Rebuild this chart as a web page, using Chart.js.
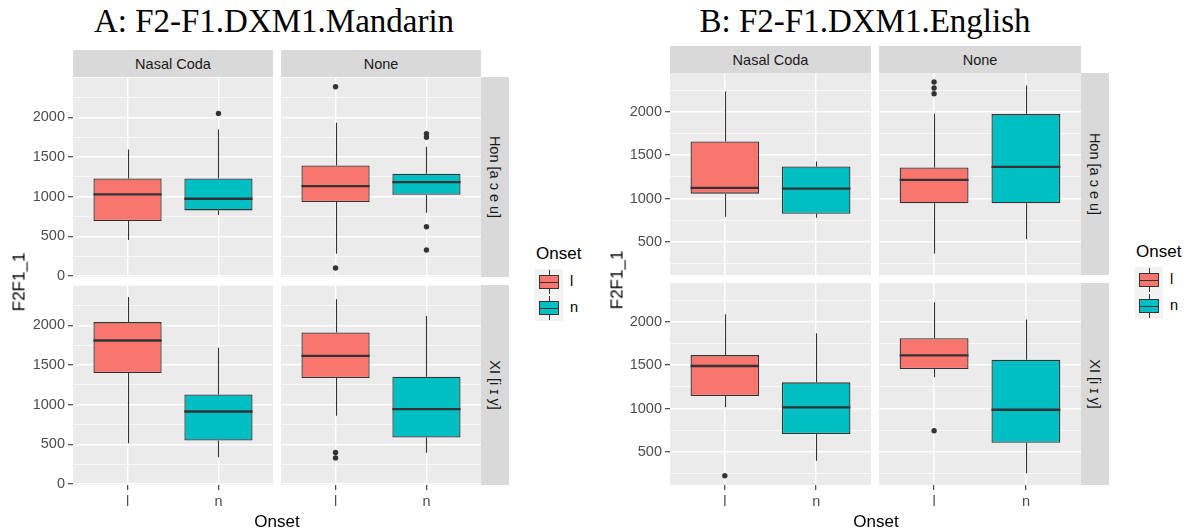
<!DOCTYPE html>
<html><head><meta charset="utf-8">
<script src="https://cdn.jsdelivr.net/npm/chart.js@4.4.1/dist/chart.umd.min.js"></script>
<style>
body{margin:0;width:1184px;height:531px;position:relative;overflow:hidden;background:#fff;font-family:"Liberation Sans",Arial,sans-serif;}
canvas{position:absolute;}
.abs{position:absolute;white-space:nowrap;}
.strip{position:absolute;background:#D9D9D9;color:#1A1A1A;font-size:14.5px;display:flex;align-items:center;justify-content:center;white-space:nowrap;overflow:visible;}
.title{position:absolute;font-family:"Liberation Serif","Times New Roman",serif;font-size:33px;line-height:33px;color:#000;white-space:nowrap;transform:translateX(-50%);}
.axt{position:absolute;font-size:17px;line-height:17px;color:#000;white-space:nowrap;}
</style></head><body>
<script>
// ---------- data ----------
const categories = ['l', 'n'];
const codaFacets = ['Nasal Coda', 'None'];
const vowelFacets = ['Hon [a ɔ e u]', 'XI [i ɪ y]'];
const fillColors = ['#F8766D', '#00BFC4'];
const yTitle = 'F2F1_1';
const xTitle = 'Onset';
const legendTitle = 'Onset';

// [lower whisker, Q1, median, Q3, upper whisker] for onset l, n
const mandarinHonNasal = [[454, 693, 1030, 1231, 1597], [769, 828, 975, 1231, 1849]];
const mandarinHonNasalOut = [[], [2050]];
const mandarinHonNone = [[282, 933, 1134, 1395, 1933], [799, 1026, 1185, 1290, 1631]];
const mandarinHonNoneOut = [[2387, 101], [1795, 1750, 622, 328]];
const mandarinXiNasal = [[515, 1401, 1810, 2042, 2358], [338, 548, 915, 1130, 1718]];
const mandarinXiNasalOut = [[], []];
const mandarinXiNone = [[861, 1338, 1616, 1911, 2329], [396, 586, 945, 1354, 2118]];
const mandarinXiNoneOut = [[398, 330], []];

const englishHonNasal = [[792, 1057, 1123, 1657, 2234], [780, 826, 1115, 1369, 1426]];
const englishHonNasalOut = [[], []];
const englishHonNone = [[369, 946, 1215, 1357, 1977], [531, 946, 1365, 1973, 2303]];
const englishHonNoneOut = [[2342, 2273, 2207], []];
const englishXiNasal = [[1014, 1144, 1490, 1616, 2085], [400, 707, 1014, 1302, 1866]];
const englishXiNasalOut = [[227], []];
const englishXiNone = [[1360, 1455, 1613, 1809, 2223], [254, 607, 987, 1562, 2027]];
const englishXiNoneOut = [[745], []];

const mandarinYRange = [-12, 2510];
const englishYRange = [120, 2446];
const mandarinTicks = [0, 500, 1000, 1500, 2000];
const englishTicks = [500, 1000, 1500, 2000];

// ---------- layout ----------
const FONT = '"Liberation Sans", Arial, sans-serif';
const figs = [
  {
    title: 'A: F2-F1.DXM1.Mandarin', titleX: 274,
    cols: [[73, 273], [281, 481]], rows: [[77, 277], [285, 485]],
    stripTop: 50, stripRight: 509,
    range: mandarinYRange, majors: mandarinTicks,
    panels: [[[mandarinHonNasal, mandarinHonNasalOut], [mandarinHonNone, mandarinHonNoneOut]],
             [[mandarinXiNasal, mandarinXiNasalOut], [mandarinXiNone, mandarinXiNoneOut]]],
    yTitlePos: [19, 282], xTitleX: 277,
    legend: { x: 535, y: 269, titleX: 536, titleTop: 245, labelX: 570 }
  },
  {
    title: 'B: F2-F1.DXM1.English', titleX: 865,
    cols: [[670, 871], [879, 1081]], rows: [[73, 275], [283, 485]],
    stripTop: 46, stripRight: 1109,
    range: englishYRange, majors: englishTicks,
    panels: [[[englishHonNasal, englishHonNasalOut], [englishHonNone, englishHonNoneOut]],
             [[englishXiNasal, englishXiNasalOut], [englishXiNone, englishXiNoneOut]]],
    yTitlePos: [617, 280], xTitleX: 876,
    legend: { x: 1135, y: 267, titleX: 1136, titleTop: 243, labelX: 1170 }
  }
];

function el(tag, cls, style, text) {
  const d = document.createElement(tag);
  if (cls) d.className = cls;
  Object.assign(d.style, style);
  if (text !== undefined) d.textContent = text;
  document.body.appendChild(d);
  return d;
}

function makePanel(fig, r, c) {
  const [x0, x1] = fig.cols[c], [y0, y1] = fig.rows[r];
  const [stats, outs] = fig.panels[r][c];
  const P = 14, axisW = c === 0 ? 60 : 0, axisH = r === 1 ? 26 : 0;
  const W = (x1 - x0) + axisW + 2 * P, H = (y1 - y0) + axisH + 2 * P;
  const cv = document.createElement('canvas');
  cv.width = W; cv.height = H;
  Object.assign(cv.style, { left: (x0 - axisW - P) + 'px', top: (y0 - P) + 'px', width: W + 'px', height: H + 'px' });
  document.body.appendChild(cv);

  const [ymin, ymax] = fig.range;
  const majors = fig.majors;
  const allTicks = [];
  for (let v = Math.ceil(ymin / 250) * 250; v <= ymax; v += 250) allTicks.push(v);
  const isMajor = v => majors.includes(v);

  const boxParts = {
    id: 'boxParts',
    beforeDraw(chart) {
      const a = chart.chartArea, ctx = chart.ctx;
      ctx.save(); ctx.fillStyle = '#EBEBEB';
      ctx.fillRect(a.left, a.top, a.right - a.left, a.bottom - a.top);
      ctx.restore();
    },
    beforeDatasetsDraw(chart) {
      const xs = chart.scales.x, ys = chart.scales.y, ctx = chart.ctx;
      ctx.save(); ctx.strokeStyle = '#333333'; ctx.lineWidth = 1.1;
      stats.forEach((s, i) => {
        const x = Math.round(xs.getPixelForValue(i)) + 0.5;
        ctx.beginPath();
        ctx.moveTo(x, ys.getPixelForValue(s[0])); ctx.lineTo(x, ys.getPixelForValue(s[1]));
        ctx.moveTo(x, ys.getPixelForValue(s[3])); ctx.lineTo(x, ys.getPixelForValue(s[4]));
        ctx.stroke();
      });
      ctx.restore();
    },
    afterDatasetsDraw(chart) {
      const ys = chart.scales.y, ctx = chart.ctx;
      const meta = chart.getDatasetMeta(0);
      ctx.save(); ctx.strokeStyle = '#333333'; ctx.lineWidth = 2.4;
      stats.forEach((s, i) => {
        const bar = meta.data[i];
        const y = ys.getPixelForValue(s[2]);
        ctx.beginPath();
        ctx.moveTo(bar.x - bar.width / 2, y); ctx.lineTo(bar.x + bar.width / 2, y);
        ctx.stroke();
      });
      ctx.restore();
    }
  };

  new Chart(cv, {
    type: 'bar',
    data: {
      datasets: [
        {
          type: 'bar',
          data: stats.map((s, i) => ({ x: i, y: [s[1], s[3]] })),
          backgroundColor: fillColors, borderColor: '#333333', borderWidth: 1.3,
          borderSkipped: false, categoryPercentage: 1, barPercentage: 0.75
        },
        {
          type: 'scatter',
          data: outs.flatMap((arr, i) => arr.map(v => ({ x: i, y: v }))),
          pointRadius: 2.7, pointBackgroundColor: '#333333', pointBorderWidth: 0, pointBorderColor: '#333333'
        }
      ]
    },
    options: {
      responsive: false, animation: false, devicePixelRatio: 1,
      layout: { padding: { left: P, right: P, top: P, bottom: P } },
      plugins: { legend: { display: false }, tooltip: { enabled: false }, title: { display: false } },
      events: [],
      scales: {
        x: {
          type: 'linear', min: -0.6, max: 1.6, offset: false,
          afterBuildTicks: s => { s.ticks = categories.map((_, i) => ({ value: i })); },
          afterFit: s => { s.height = axisH; },
          ticks: { display: r === 1, autoSkip: false, maxRotation: 0, padding: 3,
                   callback: v => categories[v] !== undefined ? categories[v] : '',
                   color: '#4D4D4D', font: { family: FONT, size: 14.5 } },
          grid: { offset: false, color: '#FFFFFF', lineWidth: 1.4, drawTicks: r === 1, tickLength: 5,
                  tickColor: '#333333', tickWidth: 1.1 },
          border: { display: false }
        },
        y: {
          type: 'linear', min: ymin, max: ymax, position: 'left',
          afterBuildTicks: s => { s.ticks = allTicks.map(v => ({ value: v })); },
          afterFit: s => { s.width = axisW; },
          ticks: { display: c === 0, autoSkip: false, padding: 3,
                   callback: v => isMajor(v) ? String(v) : '',
                   color: '#4D4D4D', font: { family: FONT, size: 14.5 } },
          grid: { color: '#FFFFFF', lineWidth: ctx => (ctx.tick && isMajor(ctx.tick.value)) ? 1.4 : 0.7,
                  drawTicks: c === 0, tickLength: 5,
                  tickColor: ctx => (ctx.tick && isMajor(ctx.tick.value)) ? '#333333' : 'rgba(0,0,0,0)',
                  tickWidth: 1.1 },
          border: { display: false }
        }
      }
    },
    plugins: [boxParts]
  });
}

figs.forEach(fig => {
  el('div', 'title', { left: fig.titleX + 'px', top: '5px' }, fig.title);
  // top strips
  fig.cols.forEach(([x0, x1], c) => {
    el('div', 'strip', { left: x0 + 'px', top: fig.stripTop + 'px', width: (x1 - x0) + 'px',
      height: (fig.rows[0][0] - fig.stripTop) + 'px' }, codaFacets[c]);
  });
  // right strips
  const rx = fig.cols[1][1];
  fig.rows.forEach(([y0, y1], r) => {
    const s = el('div', 'strip', { left: rx + 'px', top: y0 + 'px', width: (fig.stripRight - rx) + 'px', height: (y1 - y0) + 'px' });
    const sp = document.createElement('span');
    sp.textContent = vowelFacets[r];
    sp.style.transform = 'rotate(90deg)';
    sp.style.display = 'inline-block';
    s.appendChild(sp);
  });
  for (let r = 0; r < 2; r++) for (let c = 0; c < 2; c++) makePanel(fig, r, c);
  // axis titles
  el('div', 'axt', { left: fig.yTitlePos[0] + 'px', top: fig.yTitlePos[1] + 'px',
    transform: 'translate(-50%,-50%) rotate(-90deg)' }, yTitle);
  el('div', 'axt', { left: fig.xTitleX + 'px', top: '513px', transform: 'translateX(-50%)' }, xTitle);
  // legend
  const L = fig.legend;
  el('div', 'axt', { left: L.titleX + 'px', top: L.titleTop + 'px' }, legendTitle);
  el('div', 'abs', { left: L.x + 'px', top: L.y + 'px', width: '28px', height: '52px', background: '#F2F2F2' });
  categories.forEach((cat, i) => {
    const ky = L.y + i * 26;
    el('div', 'abs', { left: (L.x + 13.5) + 'px', top: (ky + 1) + 'px', width: '1px', height: '24px', background: '#333333' });
    el('div', 'abs', { left: (L.x + 4) + 'px', top: (ky + 6) + 'px', width: '20px', height: '14px', boxSizing: 'border-box',
      border: '1px solid #333333', background: fillColors[i] });
    el('div', 'abs', { left: (L.x + 4) + 'px', top: (ky + 12.5) + 'px', width: '20px', height: '1.5px', background: '#333333' });
    el('div', 'abs', { left: L.labelX + 'px', top: (ky + 4) + 'px', fontSize: '14.5px', lineHeight: '17px', color: '#000' }, cat);
  });
});
</script>
</body></html>
